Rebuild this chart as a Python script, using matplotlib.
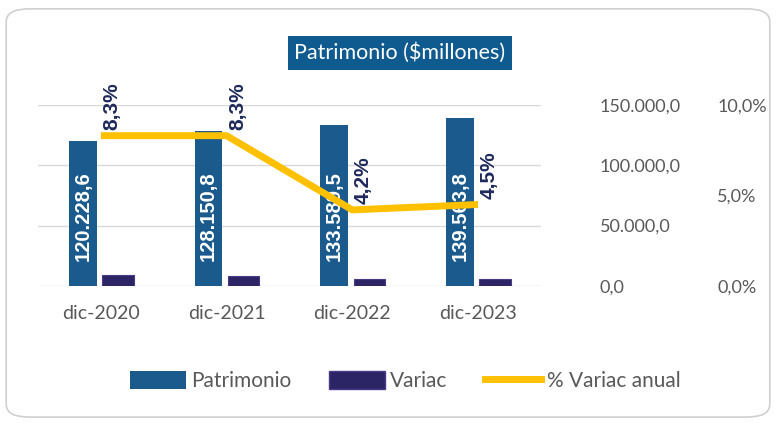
import matplotlib.pyplot as plt
import numpy as np
from matplotlib.patches import FancyBboxPatch, Patch
from matplotlib.lines import Line2D

# data
categorias = ['dic-2020', 'dic-2021', 'dic-2022', 'dic-2023']
patrimonio = [120228.6, 128150.8, 133589.5, 139563.8]
variac = [9214, 7922, 5439, 5974]
pct_variac = [8.3, 8.3, 4.2, 4.5]
etiquetas_patrimonio = ['120.228,6', '128.150,8', '133.589,5', '139.563,8']
etiquetas_pct = ['8,3%', '8,3%', '4,2%', '4,5%']
ticks_izq = [0, 50000, 100000, 150000]
ticks_izq_txt = ['0,0', '50.000,0', '100.000,0', '150.000,0']
ticks_der = [0, 5, 10]
ticks_der_txt = ['0,0%', '5,0%', '10,0%']

col_patr = '#1B5A8C'
col_var = '#2B2566'
col_line = '#FFC000'
col_txt = '#595959'
col_lbl = '#1F2A5C'
font = 'Lato'

fig = plt.figure(figsize=(7.76, 4.23), dpi=100)
fig.patch.set_facecolor('white')

# rounded border around whole chart
border = FancyBboxPatch((0.008, 0.014), 0.984, 0.965, boxstyle='round,pad=0,rounding_size=0.03',
                        transform=fig.transFigure, facecolor='none', edgecolor='#D0D0D0',
                        lw=1.2, zorder=-1)
fig.patches.append(border)

ax = fig.add_axes([0.049, 0.324, 0.648, 0.428])
ax.patch.set_visible(False)
x = np.arange(len(categorias))

ax.bar(x - 0.143, patrimonio, width=0.22, color=col_patr, zorder=2)
ax.bar(x + 0.135, variac, width=0.25, color=col_var, edgecolor='#4B3A8A', lw=0.8, zorder=2)

for xi, v, t in zip(x, patrimonio, etiquetas_patrimonio):
    ax.text(xi - 0.143, 58000, t, rotation=90, ha='center', va='center', color='white',
            fontsize=14.5, fontweight='bold', family='Liberation Sans', zorder=3)

ax.set_xlim(-0.5, 3.5)
ax.set_ylim(0, 150000)
ax.set_xticks(x)
ax.set_xticklabels(categorias, family=font, fontsize=14, color=col_txt)
ax.tick_params(axis='x', length=0, pad=14)
ax.grid(axis='y', color='#D9D9D9', lw=1, zorder=0)
for s in ax.spines.values():
    s.set_visible(False)

ax2 = ax.twinx()
ax2.plot(x, pct_variac, color=col_line, lw=5, zorder=4, solid_capstyle='butt')
ax2.set_ylim(0, 10)
ax2.set_yticks(ticks_der)
ax2.set_yticklabels(ticks_der_txt, family=font, fontsize=13, color=col_txt)
ax2.tick_params(axis='y', length=0, pad=127)
for s in ax2.spines.values():
    s.set_visible(False)

# left-axis values are shown on the right side too (twinx moves them left, so set after)
ax.yaxis.tick_right()
ax.set_yticks(ticks_izq)
ax.set_yticklabels(ticks_izq_txt, family=font)
ax.tick_params(axis='y', length=0, pad=42.5, labelsize=13, labelcolor=col_txt)

for xi, v, t in zip(x, pct_variac, etiquetas_pct):
    ax2.annotate(t, (xi, v), xytext=(8, 4), textcoords='offset points', rotation=90,
                 ha='center', va='bottom', color=col_lbl, fontsize=15, fontweight='bold',
                 family='Liberation Sans', annotation_clip=False)

fig.text(0.515, 0.875, 'Patrimonio ($millones)', ha='center', va='center', color='white',
         fontsize=15.5, family=font,
         bbox=dict(boxstyle='square,pad=0.3', facecolor='#0F5A8E', edgecolor='none'))

handles = [Patch(facecolor=col_patr), Patch(facecolor=col_var, edgecolor='#4B3A8A'),
           Line2D([0], [0], color=col_line, lw=5)]
leg = fig.legend(handles, ['Patrimonio', 'Variac', '% Variac anual'], loc='center',
                 bbox_to_anchor=(0.522, 0.099), ncol=3, frameon=False, handlelength=2.7,
                 handleheight=0.9, handletextpad=0.25, columnspacing=1.8,
                 prop={'family': font, 'size': 15})
for t in leg.get_texts():
    t.set_color(col_txt)

fig.savefig('out.png', dpi=100)
